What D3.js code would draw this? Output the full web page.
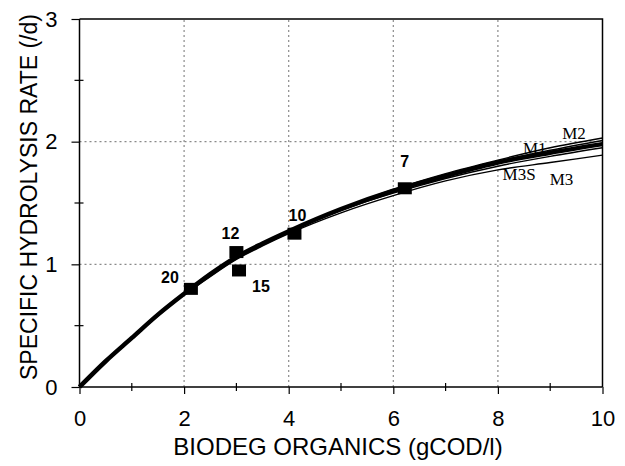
<!DOCTYPE html>
<html>
<head>
<meta charset="utf-8">
<script src="https://cdn.jsdelivr.net/npm/d3@7"></script>
<style>
  body { margin: 0; background: #fff; }
  svg { display: block; }
</style>
</head>
<body>
<div class="chart"></div>
<script>
// values
var xs = [0, 0.5, 1, 1.5, 2, 2.5, 3, 3.5, 4, 5, 6, 7, 8, 9, 10];
var bold = [0, 0.21, 0.40, 0.59, 0.76, 0.92, 1.06, 1.17, 1.27, 1.45, 1.60, 1.72, 1.83, 1.91, 1.98];
var m1   = [0, 0.21, 0.40, 0.59, 0.76, 0.92, 1.06, 1.17, 1.27, 1.45, 1.60, 1.73, 1.84, 1.93, 2.01];
var m2   = [0, 0.21, 0.40, 0.59, 0.76, 0.92, 1.06, 1.17, 1.27, 1.45, 1.61, 1.74, 1.85, 1.95, 2.03];
var m3   = [0, 0.21, 0.40, 0.58, 0.75, 0.90, 1.04, 1.15, 1.25, 1.42, 1.56, 1.68, 1.77, 1.83, 1.89];
var m3s  = [0, 0.21, 0.40, 0.59, 0.76, 0.91, 1.05, 1.16, 1.26, 1.44, 1.58, 1.70, 1.80, 1.88, 1.95];

var pointX = [2.13, 3.0, 3.05, 4.11, 6.22];
var pointY = [0.80, 1.10, 0.95, 1.25, 1.62];
var pointLabels = ["20", "12", "15", "10", "7"];

var curveNames = ["M2", "M1", "M3S", "M3"];
var curveLabelX = [9.23, 8.48, 8.09, 8.99];
var curveLabelY = [2.02, 1.90, 1.69, 1.65];

var xTicks = [0, 2, 4, 6, 8, 10];
var yTicks = [0, 1, 2, 3];

(function() {

	var width = 625, height = 466;
	var left = 79.5, right = 602.5, top = 19, bottom = 387;

	var svg = d3.select(".chart")
				.append("svg")
				.attr("width", width)
				.attr("height", height)

	svg.append("rect")
	   .attr("width", width)
	   .attr("height", height)
	   .attr("fill", "#fff")

	var xScale = d3.scaleLinear().domain([0, 10]).range([left, right]);
	var yScale = d3.scaleLinear().domain([0, 3]).range([bottom, top]);

	// dotted grid
	svg.selectAll(".gx")
	   .data([2, 4, 6, 8])
	   .enter()
	   .append("line")
	   .attr("x1", function(d) { return xScale(d); })
	   .attr("x2", function(d) { return xScale(d); })
	   .attr("y1", yScale(0))
	   .attr("y2", yScale(3))
	   .attr("stroke", "#8a8a8a")
	   .attr("stroke-width", 1.2)
	   .attr("stroke-dasharray", "2,3")

	svg.selectAll(".gy")
	   .data([1, 2])
	   .enter()
	   .append("line")
	   .attr("x1", xScale(0))
	   .attr("x2", xScale(10))
	   .attr("y1", function(d) { return yScale(d); })
	   .attr("y2", function(d) { return yScale(d); })
	   .attr("stroke", "#8a8a8a")
	   .attr("stroke-width", 1.2)
	   .attr("stroke-dasharray", "2,3")

	// frame top / right
	svg.append("path")
	   .attr("d", "M" + xScale(0) + "," + yScale(3) + "H" + xScale(10) + "V" + yScale(0))
	   .attr("fill", "none")
	   .attr("stroke", "#000")
	   .attr("stroke-width", 1.5)

	// axes
	var xAxis = d3.axisBottom(xScale)
				  .tickValues(xTicks)
				  .tickSize(7)
				  .tickPadding(16)
				  .tickFormat(d3.format("d"))

	var yAxis = d3.axisLeft(yScale)
				  .tickValues(yTicks)
				  .tickSize(8)
				  .tickPadding(14)
				  .tickFormat(d3.format("d"))

	var gx = svg.append("g")
				.attr("transform", "translate(0," + bottom + ")")
				.call(xAxis)
	var gy = svg.append("g")
				.attr("transform", "translate(" + left + ",0)")
				.call(yAxis)

	;[gx, gy].forEach(function(g) {
		g.select(".domain").attr("stroke", "#000").attr("stroke-width", 1.5)
		g.selectAll(".tick line").attr("stroke", "#000").attr("stroke-width", 1.2)
		g.selectAll(".tick text")
		 .attr("fill", "#000")
		 .attr("font-family", "Liberation Sans, Arial, sans-serif")
		 .attr("font-size", "22px")
	})
	gy.select(".domain").attr("d", "M0," + bottom + "V" + top)
	gx.select(".domain").attr("d", "M" + left + ",0H" + right)

	// minor ticks crossing the axes
	svg.selectAll(".mx")
	   .data([1, 3, 5, 7, 9])
	   .enter()
	   .append("line")
	   .attr("x1", function(d) { return xScale(d); })
	   .attr("x2", function(d) { return xScale(d); })
	   .attr("y1", bottom - 4)
	   .attr("y2", bottom + 4)
	   .attr("stroke", "#000")
	   .attr("stroke-width", 1.2)

	svg.selectAll(".my")
	   .data([0.5, 1.5, 2.5])
	   .enter()
	   .append("line")
	   .attr("x1", left - 5)
	   .attr("x2", left + 4)
	   .attr("y1", function(d) { return yScale(d); })
	   .attr("y2", function(d) { return yScale(d); })
	   .attr("stroke", "#000")
	   .attr("stroke-width", 1.2)

	// curves
	var line = function(ys) {
		return d3.line()
				 .x(function(d, i) { return xScale(xs[i]); })
				 .y(function(d) { return yScale(d); })
				 .curve(d3.curveMonotoneX)(ys);
	}

	;[m2, m1, m3, m3s].forEach(function(ys) {
		svg.append("path")
		   .attr("d", line(ys))
		   .attr("fill", "none")
		   .attr("stroke", "#000")
		   .attr("stroke-width", 1.4)
	})

	svg.append("path")
	   .attr("d", line(bold))
	   .attr("fill", "none")
	   .attr("stroke", "#000")
	   .attr("stroke-width", 4.5)

	// data squares
	var offsets = { "20": [-12, -6, "end"], "12": [-6, -13, "middle"], "15": [13, 22, "start"],
					"10": [3, -13, "middle"], "7": [0, -21, "middle"] };

	var pts = svg.selectAll(".pt")
				 .data(pointX)
				 .enter()
				 .append("g")
				 .attr("transform", function(d, i) {
					 return "translate(" + xScale(d) + "," + yScale(pointY[i]) + ")";
				 })

	pts.append("rect")
	   .attr("x", -7)
	   .attr("y", -6)
	   .attr("width", 14)
	   .attr("height", 12)
	   .attr("fill", "#000")

	pts.append("text")
	   .text(function(d, i) { return pointLabels[i]; })
	   .attr("dx", function(d, i) { return offsets[pointLabels[i]][0]; })
	   .attr("dy", function(d, i) { return offsets[pointLabels[i]][1]; })
	   .attr("text-anchor", function(d, i) { return offsets[pointLabels[i]][2]; })
	   .attr("font-family", "Liberation Sans, Arial, sans-serif")
	   .attr("font-weight", "bold")
	   .attr("font-size", "16px")
	   .attr("fill", "#000")

	// curve names
	svg.selectAll(".cn")
	   .data(curveNames)
	   .enter()
	   .append("text")
	   .text(function(d) { return d; })
	   .attr("x", function(d, i) { return xScale(curveLabelX[i]); })
	   .attr("y", function(d, i) { return yScale(curveLabelY[i]); })
	   .attr("font-family", "Liberation Serif, Times New Roman, serif")
	   .attr("font-size", "17px")
	   .attr("fill", "#000")

	// axis titles
	svg.append("text")
	   .text("BIODEG ORGANICS (gCOD/l)")
	   .attr("x", xScale(5) - 3)
	   .attr("y", 455)
	   .attr("text-anchor", "middle")
	   .attr("font-family", "Liberation Sans, Arial, sans-serif")
	   .attr("font-size", "24px")
	   .attr("fill", "#000")

	svg.append("text")
	   .text("SPECIFIC HYDROLYSIS RATE (/d)")
	   .attr("transform", "translate(37,197) rotate(-90)")
	   .attr("text-anchor", "middle")
	   .attr("font-family", "Liberation Sans, Arial, sans-serif")
	   .attr("font-size", "23px")
	   .attr("fill", "#000")

}())
</script>
</body>
</html>
